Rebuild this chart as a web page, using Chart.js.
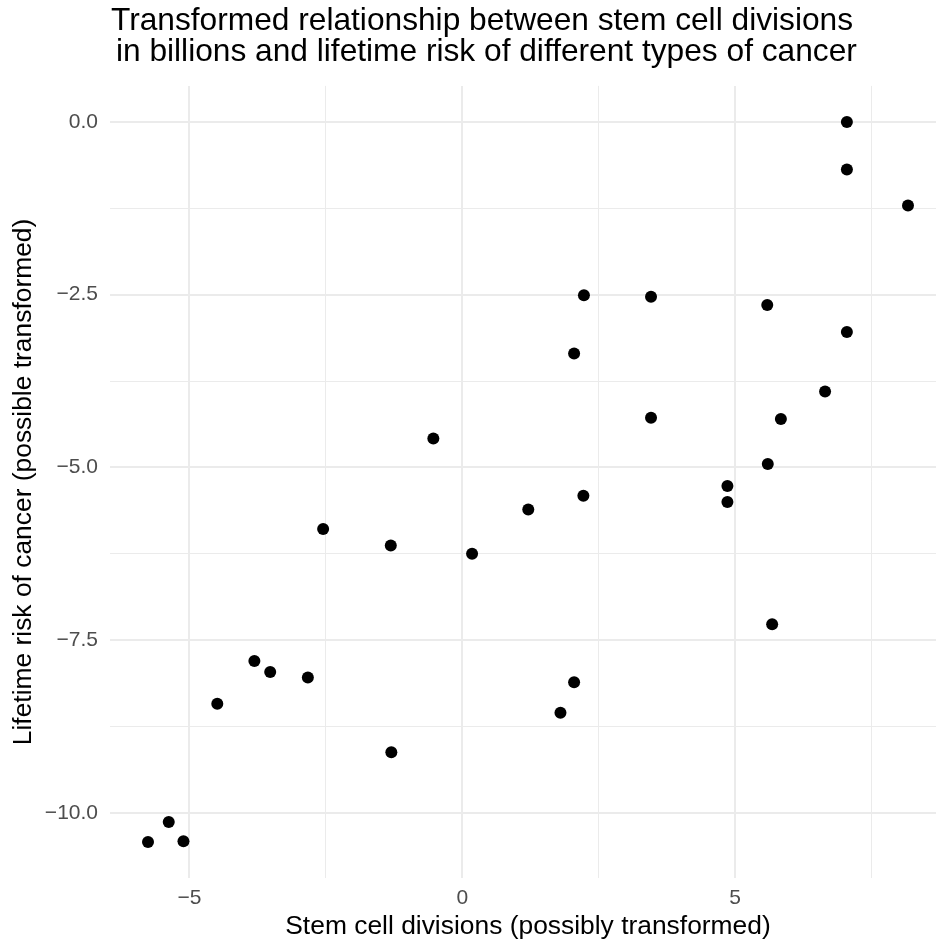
<!DOCTYPE html>
<html>
<head>
<meta charset="utf-8">
<title>Stem cell divisions vs lifetime cancer risk</title>
<script src="https://cdn.jsdelivr.net/npm/chart.js@4.4.1/dist/chart.umd.min.js"></script>
<style>
    html, body { margin: 0; padding: 0; background: #ffffff; overflow: hidden; }
    canvas { display: block; }
</style>
</head>
<body>
<!-- 元の図は右端が少し切れているので、キャンバスを少し広めに取る -->
<canvas id="riskChart" width="964" height="943"></canvas>
<script>
// データ
const stemDivisions = [
    7.05, 7.05, 8.17, 2.23, 3.46, 5.59, 7.05, 2.05, 6.65, 3.46, 5.84,
    -0.53, 5.60, 4.86, 4.86, 2.22, 1.21, -2.55, -1.31, 0.18, 5.68,
    -3.81, -3.52, -2.83, -4.49, 2.05, 1.80, -1.30, -5.38, -5.76, -5.11
];
const lifetimeRisk = [
    0.00, -0.69, -1.21, -2.51, -2.53, -2.65, -3.04, -3.35, -3.90, -4.28, -4.30,
    -4.58, -4.95, -5.27, -5.50, -5.41, -5.61, -5.89, -6.13, -6.25, -7.27,
    -7.80, -7.96, -8.04, -8.42, -8.11, -8.55, -9.12, -10.13, -10.42, -10.41
];

// 目盛り
const xMajorTicks = [-5, 0, 5];
const xTickLabels = ['\u22125', '0', '5'];
const xMinorTicks = [-2.5, 2.5, 7.5];
const yMajorTicks = [-10, -7.5, -5, -2.5, 0];
const yTickLabels = ['\u221210.0', '\u22127.5', '\u22125.0', '\u22122.5', '0.0'];
const yMinorTicks = [-8.75, -6.25, -3.75, -1.25];

const titleLines = [
    'Transformed relationship between stem cell divisions',
    ' in billions and lifetime risk of different types of cancer'
];

// ggplot風の5%拡張
const expandRange = (values) => {
    const min = Math.min(...values);
    const max = Math.max(...values);
    const pad = (max - min) * 0.05;
    return { min: min - pad, max: max + pad };
};
const xRange = expandRange(stemDivisions);
const yRange = expandRange(lifetimeRisk);

const FONT = '"Liberation Sans", Arial, Helvetica, sans-serif';
const GRID_COLOR = '#EBEBEB';

const buildTicks = (major, minor) =>
    [...major, ...minor].sort((a, b) => a - b).map(v => ({ value: v }));

const tickLabel = (major, labels) => (value) => {
    const i = major.indexOf(value);
    return i >= 0 ? labels[i] : '';
};

const points = stemDivisions.map((x, i) => ({ x: x, y: lifetimeRisk[i] }));

const ctx = document.getElementById('riskChart').getContext('2d');
new Chart(ctx, {
    type: 'scatter',
    data: {
        datasets: [{
            data: points,
            backgroundColor: '#000000',
            borderWidth: 0,
            pointRadius: 6,
            pointHoverRadius: 6
        }]
    },
    options: {
        responsive: false,
        devicePixelRatio: 1,
        animation: false,
        layout: {
            padding: { left: 18, right: 18, top: 0, bottom: 0 }
        },
        plugins: {
            legend: { display: false },
            tooltip: { enabled: false },
            title: {
                display: true,
                text: titleLines,
                color: '#000000',
                font: { family: FONT, size: 31.7, weight: 'normal', lineHeight: 1.0 },
                padding: { top: 5, bottom: 17.5 }
            }
        },
        scales: {
            x: {
                type: 'linear',
                min: xRange.min,
                max: xRange.max,
                afterBuildTicks: (scale) => { scale.ticks = buildTicks(xMajorTicks, xMinorTicks); },
                afterFit: (scale) => { scale.height = 65; },
                ticks: {
                    callback: tickLabel(xMajorTicks, xTickLabels),
                    color: '#4D4D4D',
                    font: { family: FONT, size: 21 },
                    padding: 8,
                    maxRotation: 0,
                    autoSkip: false
                },
                grid: {
                    color: GRID_COLOR,
                    lineWidth: (c) => xMajorTicks.includes(c.tick.value) ? 2 : 1,
                    drawTicks: false
                },
                border: { display: false },
                title: {
                    display: true,
                    text: 'Stem cell divisions (possibly transformed)',
                    color: '#000000',
                    font: { family: FONT, size: 26.4 },
                    padding: { top: 0, bottom: 0 }
                }
            },
            y: {
                type: 'linear',
                min: yRange.min,
                max: yRange.max,
                afterBuildTicks: (scale) => { scale.ticks = buildTicks(yMajorTicks, yMinorTicks); },
                afterFit: (scale) => { scale.width = 92; },
                ticks: {
                    callback: tickLabel(yMajorTicks, yTickLabels),
                    color: '#4D4D4D',
                    font: { family: FONT, size: 21 },
                    padding: 12,
                    autoSkip: false
                },
                grid: {
                    color: GRID_COLOR,
                    lineWidth: (c) => yMajorTicks.includes(c.tick.value) ? 2 : 1,
                    drawTicks: false
                },
                border: { display: false },
                title: {
                    display: true,
                    text: 'Lifetime risk of cancer (possible transformed)',
                    color: '#000000',
                    font: { family: FONT, size: 26.4 },
                    padding: { top: -10, bottom: 0 }
                }
            }
        }
    }
});
</script>
</body>
</html>
